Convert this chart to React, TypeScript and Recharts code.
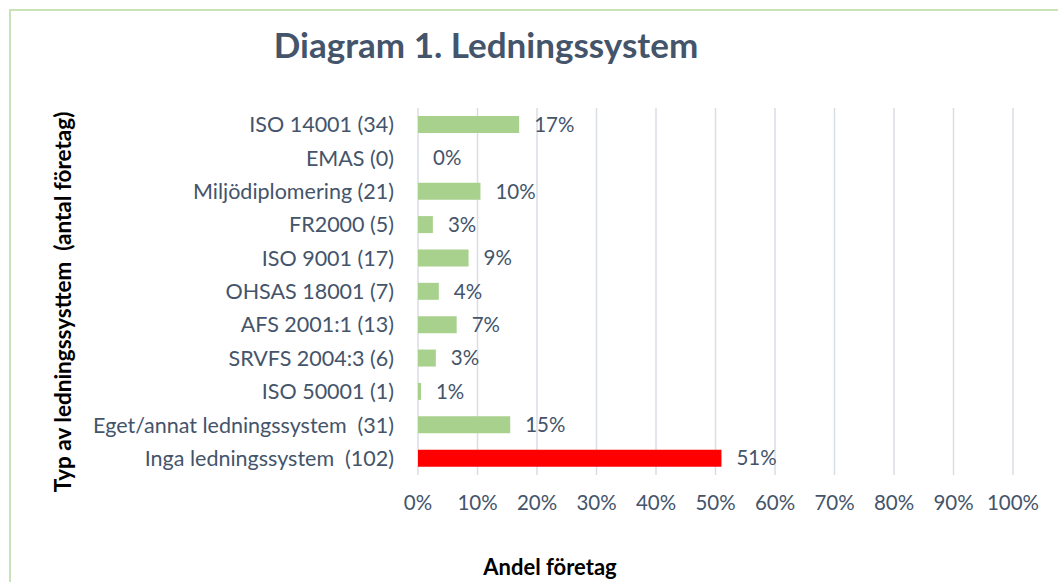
import React from "react"
import { BarChart, Bar, XAxis, YAxis, CartesianGrid, LabelList, Cell } from "recharts"

const categories = [
  "ISO 14001 (34)",
  "EMAS (0)",
  "Miljödiplomering (21)",
  "FR2000 (5)",
  "ISO 9001 (17)",
  "OHSAS 18001 (7)",
  "AFS 2001:1 (13)",
  "SRVFS 2004:3 (6)",
  "ISO 50001 (1)",
  "Eget/annat ledningssystem  (31)",
  "Inga ledningssystem  (102)",
]
const shares = [17, 0, 10.5, 2.5, 8.5, 3.5, 6.5, 3, 0.5, 15.5, 51]
const shareLabels = ["17%", "0%", "10%", "3%", "9%", "4%", "7%", "3%", "1%", "15%", "51%"]
const xTicks = [0, 10, 20, 30, 40, 50, 60, 70, 80, 90, 100]

const data = categories.map((name, i) => ({ name, value: shares[i], label: shareLabels[i] }))

const FONT = "Lato, 'Open Sans', sans-serif"
const TEXT = "#44546A"

// keeps the double spaces in the category names
function CategoryTick(props: any) {
  const { x, y, payload } = props
  return (
    <text
      x={x}
      y={y}
      dy="0.355em"
      textAnchor="end"
      fill={TEXT}
      fontSize={21.5}
      fontFamily={FONT}
      style={{ whiteSpace: "pre" }}
    >
      {payload.value}
    </text>
  )
}

export default function App() {
  return (
    <div
      style={{
        position: "absolute",
        left: 0,
        top: 0,
        width: 1058,
        height: 582,
        overflow: "hidden",
        background: "#fff",
        fontFamily: FONT,
      }}
    >
      <div
        style={{
          position: "absolute",
          left: 9,
          top: 9,
          width: 1100,
          height: 620,
          border: "2px solid #C9E2B8",
        }}
      />
      <div
        style={{
          position: "absolute",
          left: 0,
          width: 972,
          top: 23,
          textAlign: "center",
          fontSize: 35,
          fontWeight: 700,
          color: TEXT,
        }}
      >
        Diagram 1. Ledningssystem
      </div>
      <div
        style={{
          position: "absolute",
          left: 0,
          width: 1100,
          top: 553,
          textAlign: "center",
          fontSize: 22,
          fontWeight: 700,
          color: "#000",
        }}
      >
        Andel företag
      </div>
      <div
        style={{
          position: "absolute",
          left: 62,
          top: 302,
          transform: "translate(-50%, -50%) rotate(-90deg)",
          whiteSpace: "pre",
          fontSize: 22.5,
          fontWeight: 700,
          color: "#000",
        }}
      >
        {"Typ av ledningssysttem  (antal företag)"}
      </div>
      <BarChart
        width={1058}
        height={582}
        data={data}
        layout="vertical"
        barSize={17}
        margin={{ top: 108, right: 45, bottom: 47, left: 0 }}
        style={{ position: "absolute", left: 0, top: 0 }}
      >
        <CartesianGrid horizontal={false} stroke="#D9DEE5" strokeWidth={1.5} />
        <XAxis
          type="number"
          domain={[0, 100]}
          ticks={xTicks}
          tickFormatter={(v: number) => `${v}%`}
          axisLine={false}
          tickLine={false}
          tickMargin={14}
          height={60}
          interval={0}
          tick={{ fill: TEXT, fontSize: 20.5, fontFamily: FONT }}
        />
        <YAxis
          type="category"
          dataKey="name"
          width={418}
          axisLine={false}
          tickLine={false}
          tickMargin={18}
          interval={0}
          tick={<CategoryTick />}
        />
        <Bar
          dataKey="value"
          isAnimationActive={false}
          minPointSize={(v: number) => (v === 0 ? 0.01 : 0)}
        >
          {data.map((d, i) => (
            <Cell key={d.name} fill={i === data.length - 1 ? "#FF0000" : "#A9D18E"} />
          ))}
          <LabelList
            dataKey="label"
            position="right"
            offset={15}
            style={{ fill: TEXT, fontSize: 20.5, fontFamily: FONT }}
          />
        </Bar>
      </BarChart>
    </div>
  )
}
